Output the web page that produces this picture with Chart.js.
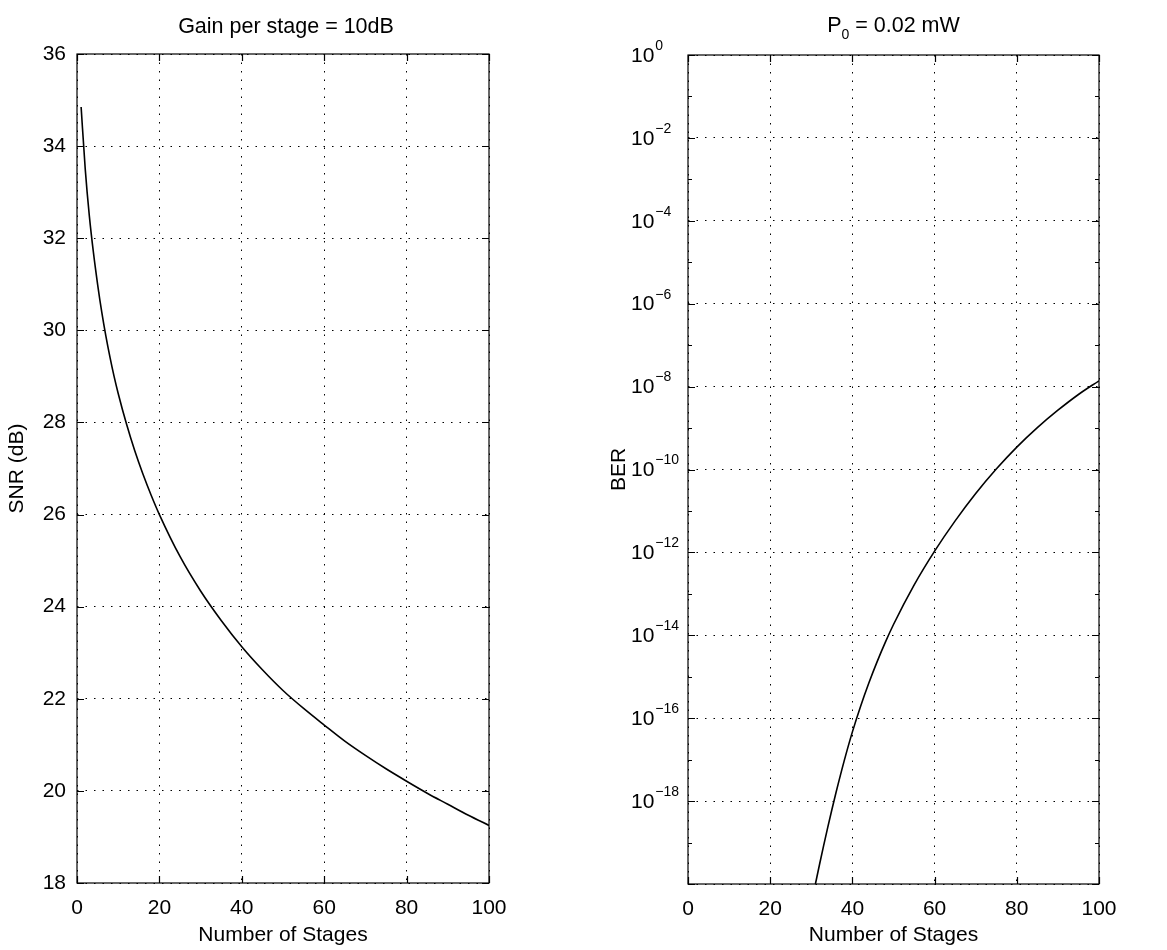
<!DOCTYPE html>
<html>
<head>
<meta charset="utf-8">
<script src="https://cdn.jsdelivr.net/npm/chart.js@4.4.1/dist/chart.umd.min.js"></script>
<style>
  html, body { margin: 0; padding: 0; background: #fff; }
  .panel { position: absolute; top: 0; height: 950px; }
  #left { left: 0; width: 583px; }
  #right { left: 583px; width: 584px; }
</style>
</head>
<body>
<div class="panel" id="left"><canvas id="snrChart"></canvas></div>
<div class="panel" id="right"><canvas id="berChart"></canvas></div>
<script>
// left panel: SNR vs number of stages
const stagesSnr = [1, 2, 3, 4, 5, 6, 7, 8, 9, 10, 12, 14, 16, 18, 20, 25, 30, 35, 40, 45, 50, 55, 60, 65, 70, 75, 80, 85, 90, 95, 100];
const snrDb = [34.85, 33.5, 32.48, 31.68, 31.0, 30.4, 29.88, 29.42, 29.0, 28.63, 27.97, 27.39, 26.88, 26.42, 26.0, 25.09, 24.34, 23.7, 23.13, 22.63, 22.18, 21.79, 21.43, 21.08, 20.77, 20.48, 20.21, 19.95, 19.71, 19.47, 19.25];

// right panel: BER (as power of ten) vs number of stages
const stagesBer = [31, 32, 33, 34, 35, 36, 38, 40, 42, 44, 46, 48, 50, 55, 60, 65, 70, 75, 80, 85, 90, 95, 100];
const berExponent = [-20.0, -19.53, -19.075, -18.635, -18.21, -17.8, -17.03, -16.33, -15.71, -15.15, -14.64, -14.17, -13.74, -12.79, -11.97, -11.24, -10.58, -9.99, -9.46, -8.99, -8.57, -8.19, -7.86];

const stageTicks = [0, 20, 40, 60, 80, 100];
const snrTicks = [18, 20, 22, 24, 26, 28, 30, 32, 34, 36];
const berTickExponents = [0, -2, -4, -6, -8, -10, -12, -14, -16, -18, -20];
const berLabelExponents = [0, -2, -4, -6, -8, -10, -12, -14, -16, -18];
const berMinorExponents = [-1, -3, -5, -7, -9, -11, -13, -15, -17, -19];

const FONT = '"Liberation Sans", Arial, Helvetica, sans-serif';
const FS = 21;

// draws the closed box, inward tick marks, the titles and the 10^n labels
const matlabFrame = {
  id: 'matlabFrame',
  afterDraw(chart, args, opts) {
    const { ctx, chartArea: a, scales } = chart;
    ctx.save();
    ctx.strokeStyle = '#000';
    ctx.lineWidth = 1.2;
    ctx.strokeRect(a.left, a.top, a.width, a.height);

    ctx.beginPath();
    const len = 7;
    scales.x.ticks.forEach(t => {
      const px = Math.round(scales.x.getPixelForValue(t.value)) + 0.5;
      ctx.moveTo(px, a.bottom); ctx.lineTo(px, a.bottom - len);
      ctx.moveTo(px, a.top); ctx.lineTo(px, a.top + len);
    });
    scales.y.ticks.forEach(t => {
      const py = Math.round(scales.y.getPixelForValue(t.value)) + 0.5;
      ctx.moveTo(a.left, py); ctx.lineTo(a.left + len, py);
      ctx.moveTo(a.right, py); ctx.lineTo(a.right - len, py);
    });
    (opts.minorY || []).forEach(v => {
      const py = Math.round(scales.y.getPixelForValue(v)) + 0.5;
      ctx.moveTo(a.left, py); ctx.lineTo(a.left + 4, py);
      ctx.moveTo(a.right, py); ctx.lineTo(a.right - 4, py);
    });
    ctx.stroke();

    ctx.fillStyle = '#000';
    ctx.textBaseline = 'middle';
    const cx = (a.left + a.right) / 2;
    if (opts.title) {
      ctx.font = '21.5px ' + FONT;
      ctx.textAlign = 'center';
      ctx.fillText(opts.title, cx + 3, 27);
    }
    if (opts.subTitle) {
      // P with subscript 0
      const [base, sub, rest] = opts.subTitle;
      ctx.textAlign = 'left';
      ctx.font = '21.5px ' + FONT;
      const w1 = ctx.measureText(base).width;
      const w3 = ctx.measureText(rest).width;
      ctx.font = '14px ' + FONT;
      const w2 = ctx.measureText(sub).width;
      let x = cx - (w1 + w2 + w3) / 2;
      ctx.font = '21.5px ' + FONT;
      ctx.fillText(base, x, 26);
      ctx.font = '14px ' + FONT;
      ctx.fillText(sub, x + w1, 35);
      ctx.font = '21.5px ' + FONT;
      ctx.fillText(rest, x + w1 + w2, 26);
    }
    if (opts.powerLabels) {
      ctx.textAlign = 'left';
      opts.powerLabels.forEach(e => {
        const py = scales.y.getPixelForValue(Math.pow(10, e));
        const x0 = a.left - 57;
        ctx.font = FS + 'px ' + FONT;
        ctx.fillText('10', x0, py + 1);
        const w = ctx.measureText('10').width;
        ctx.font = '14px ' + FONT;
        ctx.fillText(e === 0 ? '0' : '\u2212' + Math.abs(e), x0 + w + 1, py - 9);
      });
    }
    ctx.restore();
  }
};

function gridOpts() {
  return {
    grid: { color: '#000', lineWidth: 1, drawTicks: false },
    border: { display: false, dash: [1.5, 7] }
  };
}

const tickFont = { family: FONT, size: FS };

new Chart(document.getElementById('snrChart'), {
  type: 'line',
  data: {
    datasets: [{
      data: stagesSnr.map((s, i) => ({ x: s, y: snrDb[i] })),
      borderColor: '#000',
      borderWidth: 1.6,
      pointRadius: 0,
      cubicInterpolationMode: 'monotone',
      fill: false
    }]
  },
  plugins: [matlabFrame],
  options: {
    responsive: true,
    maintainAspectRatio: false,
    animation: false,
    layout: { padding: { top: 54, right: 583 - 489, left: 0, bottom: 0 } },
    plugins: {
      legend: { display: false },
      tooltip: { enabled: false },
      matlabFrame: { title: 'Gain per stage = 10dB' }
    },
    scales: {
      x: {
        type: 'linear', min: 0, max: 100,
        afterBuildTicks: s => { s.ticks = stageTicks.map(v => ({ value: v })); },
        afterFit: s => { s.height = 950 - 883; },
        ticks: { font: tickFont, color: '#000', padding: 13, maxRotation: 0 },
        title: { display: true, text: 'Number of Stages', font: tickFont, color: '#000', padding: { top: 0, bottom: 2 } },
        ...gridOpts()
      },
      y: {
        min: 18, max: 36,
        afterBuildTicks: s => { s.ticks = snrTicks.map(v => ({ value: v })); },
        afterFit: s => { s.width = 77; },
        ticks: { font: tickFont, color: '#000', padding: 11 },
        title: { display: true, text: 'SNR (dB)', font: tickFont, color: '#000', padding: { top: 5, bottom: 0 } },
        ...gridOpts()
      }
    }
  }
});

new Chart(document.getElementById('berChart'), {
  type: 'line',
  data: {
    datasets: [{
      data: stagesBer.map((s, i) => ({ x: s, y: Math.pow(10, berExponent[i]) })),
      borderColor: '#000',
      borderWidth: 1.6,
      pointRadius: 0,
      cubicInterpolationMode: 'monotone',
      fill: false
    }]
  },
  plugins: [matlabFrame],
  options: {
    responsive: true,
    maintainAspectRatio: false,
    animation: false,
    layout: { padding: { top: 55, right: 584 - (1099 - 583), left: 0, bottom: 0 } },
    plugins: {
      legend: { display: false },
      tooltip: { enabled: false },
      matlabFrame: {
        subTitle: ['P', '0', ' = 0.02 mW'],
        powerLabels: berLabelExponents,
        minorY: berMinorExponents.map(e => Math.pow(10, e))
      }
    },
    scales: {
      x: {
        type: 'linear', min: 0, max: 100,
        afterBuildTicks: s => { s.ticks = stageTicks.map(v => ({ value: v })); },
        afterFit: s => { s.height = 950 - 884; },
        ticks: { font: tickFont, color: '#000', padding: 13, maxRotation: 0 },
        title: { display: true, text: 'Number of Stages', font: tickFont, color: '#000', padding: { top: 0, bottom: 2 } },
        ...gridOpts()
      },
      y: {
        type: 'logarithmic', min: 1e-20, max: 1,
        afterBuildTicks: s => { s.ticks = berTickExponents.map(e => ({ value: Math.pow(10, e) })); },
        afterFit: s => { s.width = 105; },
        ticks: { display: false },
        title: { display: true, text: 'BER', font: tickFont, color: '#000', padding: { top: 24, bottom: 0 } },
        ...gridOpts()
      }
    }
  }
});
</script>
</body>
</html>
